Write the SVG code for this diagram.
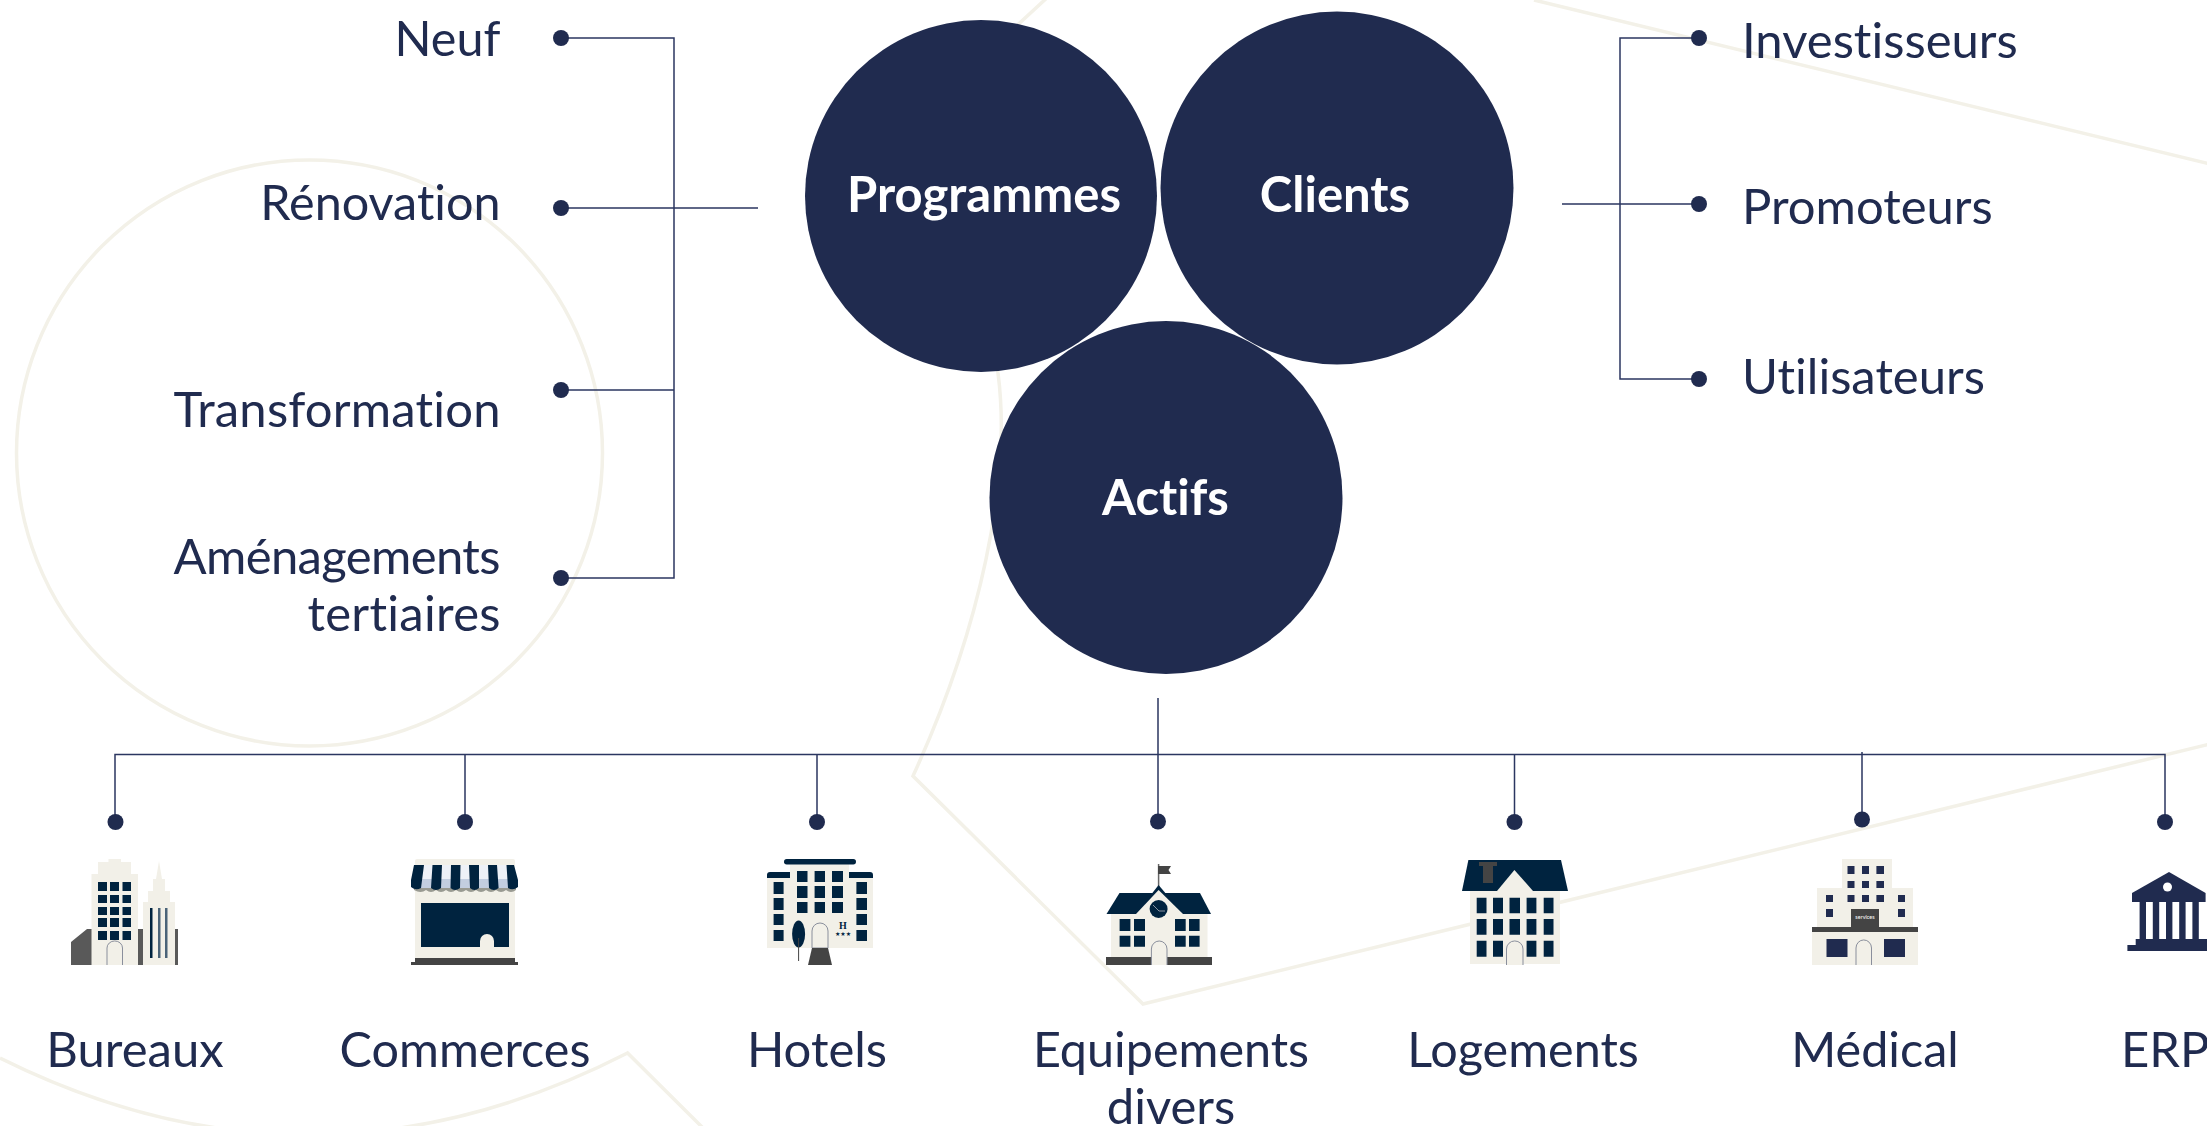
<svg xmlns="http://www.w3.org/2000/svg" width="2207" height="1126" viewBox="0 0 2207 1126">
<style>
.bg{fill:none;stroke:#F3F1E8;stroke-width:3.500}
.ln{fill:none;stroke:#2B3660;stroke-width:1.500}
.dot{fill:#202B4F}
.hub{fill:#202B4F}
text{font-variant-ligatures:none}
.t{font-family:Lato,"Liberation Sans",sans-serif;font-size:49px;fill:#202B4F}
.s{font-size:48.500px}
.h{font-family:Lato,"Liberation Sans",sans-serif;font-size:49px;font-weight:700;fill:#fff;text-anchor:middle}
.e{text-anchor:end}
.m{text-anchor:middle}
.c{fill:#F2F0E8}
.n{fill:#00233F}
.b{fill:#202B4F}
.g{fill:#444}
.g2{fill:#595959}
.dr{fill:#F2F0E8;stroke:#8A8F9C;stroke-width:1}
</style>
<rect width="2207" height="1126" fill="#fff"/>
<g id="background">
<circle class="bg" cx="309.500" cy="453" r="293"/>
<path class="bg" d="M1050,-5 L1010,32 L985,200 L998,373 C1012,480 980,630 913,776 L1143,1004 L2210,744"/>
<path class="bg" d="M1534,0 L2210,164"/>
<path class="bg" d="M0,1058 Q313,1214 627.500,1053 L703,1128"/>
</g>
<g id="connectors">
<path class="ln" d="M561,38H674V578H561M561,390H674M561,208H758"/>
<path class="ln" d="M1699,38H1620V379H1699M1562,204H1699"/>
<path class="ln" d="M115,822V754.500H2165V822M465,754.500V822M817,754.500V822M1158,698V822M1514.500,754.500V822M1862,752V819"/>
<circle class="dot" cx="561" cy="38" r="8"/><circle class="dot" cx="561" cy="208" r="8"/><circle class="dot" cx="561" cy="390" r="8"/><circle class="dot" cx="561" cy="578" r="8"/>
<circle class="dot" cx="1699" cy="38" r="8"/><circle class="dot" cx="1699" cy="204" r="8"/><circle class="dot" cx="1699" cy="379" r="8"/>
<circle class="dot" cx="115.500" cy="822" r="8"/><circle class="dot" cx="465" cy="822" r="8"/><circle class="dot" cx="817" cy="822" r="8"/><circle class="dot" cx="1158" cy="821.500" r="8"/><circle class="dot" cx="1514.500" cy="822" r="8"/><circle class="dot" cx="1862" cy="819.500" r="8"/><circle class="dot" cx="2165" cy="822" r="8"/>
</g>
<g id="node-programmes"><circle class="hub" cx="981" cy="196" r="176"/><text class="h" x="984" y="212">Programmes</text></g>
<g id="node-clients"><circle class="hub" cx="1337" cy="188" r="176.500"/><text class="h" x="1335" y="212">Clients</text></g>
<g id="node-actifs"><circle class="hub" cx="1166" cy="497.500" r="176.500"/><text class="h" x="1165.500" y="515">Actifs</text></g>
<g id="node-neuf"><text class="t s e" x="500.500" y="56">Neuf</text></g>
<g id="node-renovation"><text class="t s e" x="500.500" y="220">Rénovation</text></g>
<g id="node-transformation"><text class="t e" x="500.500" y="427" textLength="327">Transformation</text></g>
<g id="node-amenagements"><text class="t e" x="500.500" y="574" textLength="327">Aménagements</text><text class="t e" x="500.500" y="631" textLength="193">tertiaires</text></g>
<g id="node-investisseurs"><text class="t" x="1742" y="57.500">Investisseurs</text></g>
<g id="node-promoteurs"><text class="t" x="1742" y="224">Promoteurs</text></g>
<g id="node-utilisateurs"><text class="t" x="1742" y="394">Utilisateurs</text></g>
<g id="node-bureaux">
<path class="g2" d="M71,942L87,929H92V965H71ZM138,929H143V965H138ZM175,929H178V965H175Z"/>
<path class="c" d="M91.500,965V874H98V862H108.500V859H121V862H131V874H138V965Z"/>
<path class="n" d="M98,882h9v9h-9zM110,882h9v9h-9zM122.500,882h8.500v9h-8.500zM98,895h9v8h-9zM110,895h9v8h-9zM122.500,895h8.500v8h-8.500zM98,907h9v8h-9zM110,907h9v8h-9zM122.500,907h8.500v8h-8.500zM98,918h9v9h-9zM110,918h9v9h-9zM122.500,918h8.500v9h-8.500zM98,931h9v9h-9zM110,931h9v9h-9zM122.500,931h8.500v9h-8.500z"/>
<path class="dr" d="M107,965V948a7.700,7 0 0 1 15.500,0V965"/>
<path class="c" d="M143,965V902H148V891H153V879H156L159,861L162,879H165V891H170V902H175V965Z"/>
<path class="n" d="M150,908h2.500v50h-2.500z"/><path fill="#4A6378" d="M158,908h2.500v50h-2.500zM165,908h2.500v50h-2.500z"/>
<text class="t m" x="135" y="1067">Bureaux</text>
</g>
<g id="node-commerces">
<path class="c" d="M415,861q0,-2 2,-2H513q2,0 2,2V958H415Z"/>
<path fill="#EEF1F7" d="M420,865H510L514,879H416Z"/><path fill="#C3CEE0" d="M416,879H514L516,888H414Z"/>
<path fill="#999A92" d="M414,888H516V890Q511,894 506,890Q501,894 496,890Q491,894 486,890Q481,894 476,890Q471,894 466,890Q461,894 456,890Q451,894 446,890Q441,894 436,890Q431,894 426,890Q421,894 414,890Z"/>
<path class="n" d="M414,865H424L421,888Q416,891 411,887V880ZM432.500,865H442L441,888Q436,892 431,888ZM451,865H460.500L460,888Q455,892 450.500,888ZM469,865H479V888Q474.500,892 470,888ZM488,865H497L498.600,888Q494,892 489,888ZM506.500,865H514L518,880V887Q513,891 508,888Z"/>
<path class="n" d="M421,903H509V947H421Z"/>
<path class="c" d="M480,958V941a7,7 0 0 1 14,0V958Z"/>
<path class="g" d="M415,958H515V962H518V965H411V962H415Z"/>
<text class="t s m" x="465" y="1067">Commerces</text>
</g>
<g id="node-hotels">
<path class="c" d="M790,864H849V877H873V948H767V877H790Z"/>
<rect class="n" x="784" y="859" width="72" height="5.500" rx="2.700"/>
<path class="n" d="M767,878V875q0,-3 3,-3H790V878ZM849,872H870q3,0 3,3V878H849Z"/>
<path class="n" d="M797,871h10.500v11h-10.500zM814.600,871h10.400v11h-10.400zM832,871h11v11h-11zM797,886h10.500v12h-10.500zM814.600,886h10.400v12h-10.400zM832,886h11v12h-11zM797,902h10.500v11h-10.500zM814.600,902h10.400v11h-10.400zM832,902h11v11h-11zM773.600,882h10v12h-10zM773.600,898h10v12h-10zM773.600,914h10v11h-10zM773.600,930h10v11h-10zM856.400,882h10.600v12h-10.600zM856.400,898h10.600v12h-10.600zM856.400,914h10.600v11h-10.600zM856.400,930h10.600v11h-10.600z"/>
<ellipse class="n" cx="798.600" cy="934" rx="6.500" ry="13.500"/>
<path d="M798.600,938V961" stroke="#444" stroke-width="1" fill="none"/>
<path class="dr" d="M812,948V931a8,8 0 0 1 16,0V948Z"/>
<path class="g" d="M812,948H828L832,965H808Z"/>
<text x="843" y="929" font-family="Liberation Serif,serif" font-size="10" font-weight="700" fill="#00233F" text-anchor="middle">H</text>
<text x="843" y="936" font-family="DejaVu Sans,sans-serif" font-size="6" fill="#00233F" text-anchor="middle">★★★</text>
<text class="t m" x="817" y="1067">Hotels</text>
</g>
<g id="node-equipements">
<path d="M1158.600,864V887" stroke="#666" stroke-width="1.500" fill="none"/>
<path class="g" d="M1158,866H1171L1168.500,870L1171,874H1158Z"/>
<path class="c" d="M1111,914H1207.500V957H1111Z"/>
<path class="n" d="M1106.500,914L1119.500,893H1200L1211,914Z"/>
<path class="n" d="M1158.600,885L1183,914H1136Z"/>
<path class="c" d="M1158.600,890L1183,914V930H1136V914Z"/>
<circle class="n" cx="1158.600" cy="909" r="9"/>
<path d="M1153,905L1159,911H1165" stroke="#8A94A3" stroke-width="1" fill="none"/>
<path class="n" d="M1119.600,919h10.800v12h-10.800zM1134,919h11v12h-11zM1175,919h10.700v12h-10.700zM1189,919h10.600v12h-10.600zM1119.600,935.700h10.800v11h-10.800zM1134,935.700h11v11h-11zM1175,935.700h10.700v11h-10.700zM1189,935.700h10.600v11h-10.600z"/>
<path class="g" d="M1106,957H1212V965H1106Z"/>
<path class="dr" d="M1151.400,965V949a7.800,8 0 0 1 15.600,0V965"/>
<text class="t s m" x="1171" y="1067">Equipements</text><text class="t m" x="1171" y="1124">divers</text>
</g>
<g id="node-logements">
<path class="c" d="M1470,891H1560V964H1470Z"/>
<path class="n" d="M1468.400,860H1561L1568,891H1462Z"/>
<path class="g" d="M1479,862H1497V866H1493V883H1483V866H1479Z"/>
<path class="c" d="M1514.400,870L1533,891H1497Z"/>
<path class="n" d="M1476.700,897.700h9.800v15.600h-9.800zM1493,897.700h10v15.600h-10zM1509.500,897.700h10.500v15.600h-10.500zM1526.600,897.700h9.800v15.600h-9.800zM1543.700,897.700h9.800v15.600h-9.800zM1476.700,919h9.800v15.700h-9.800zM1493,919h10v15.700h-10zM1509.500,919h10.500v15.700h-10.500zM1526.600,919h9.800v15.700h-9.800zM1543.700,919h9.800v15.700h-9.800zM1476.700,940.700h9.800v16h-9.800zM1493,940.700h10v16h-10zM1526.600,940.700h9.800v16h-9.800zM1543.700,940.700h9.800v16h-9.800z"/>
<path class="dr" d="M1506.500,965V949a8.200,8 0 0 1 16.500,0V965"/>
<text class="t s m" x="1523" y="1067">Logements</text>
</g>
<g id="node-medical">
<path class="c" d="M1842,859H1892V888H1913V927H1817V888H1842ZM1812,932H1918V965H1812Z"/>
<path class="g" d="M1851,909H1879V927H1918V932H1812V927H1851Z"/>
<path class="b" d="M1847.500,866h7v8h-7zM1862,866h7v8h-7zM1876.400,866h7.600v8h-7.600zM1847.500,881h7v7h-7zM1862,881h7v7h-7zM1876.400,881h7.600v7h-7.600zM1847.500,895h7v7h-7zM1862,895h7v7h-7zM1876.400,895h7.600v7h-7.600zM1826,895h7v7h-7zM1898,895h7v7h-7zM1826,909h7v8h-7zM1898,909h7v8h-7zM1826.500,939h21v18h-21zM1884,939h21v18h-21z"/>
<path class="dr" d="M1856,965V948a7.700,8 0 0 1 15.500,0V965"/>
<text x="1865" y="919" font-family="Lato,sans-serif" font-size="5.500" fill="#fff" text-anchor="middle">services</text>
<text class="t s m" x="1875" y="1067">Médical</text>
</g>
<g id="node-erp">
<path class="b" d="M2169,872L2205.600,893V902H2132V893Z"/>
<ellipse cx="2167.500" cy="887" rx="4.500" ry="4.500" fill="#fff"/>
<path class="b" d="M2139.600,902h6.400v37h-6.400zM2152.800,902h6.400v37h-6.400zM2166,902h6.400v37h-6.400zM2179.200,902h6.400v37h-6.400zM2192.400,902h6.400v37h-6.400zM2135.700,939H2207V951H2127.400V945H2135.700Z"/>
<text class="t" x="2121" y="1067">ERP</text>
</g>
</svg>
